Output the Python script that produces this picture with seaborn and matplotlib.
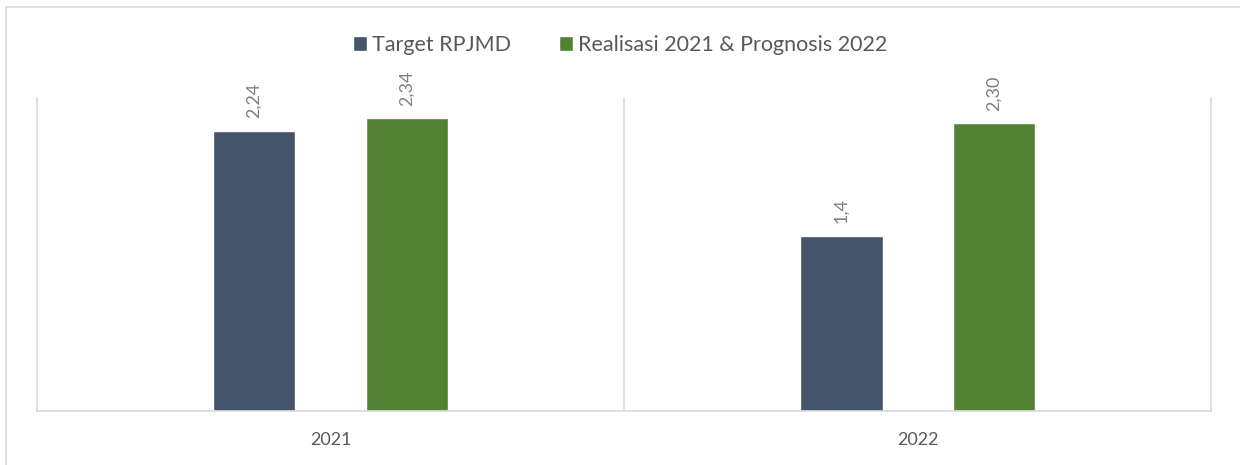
import matplotlib
matplotlib.use('Agg')
import matplotlib.pyplot as plt
import pandas as pd
import seaborn as sns
from matplotlib.lines import Line2D

# values
years = ['2021', '2022']
series = ['Target RPJMD', 'Realisasi 2021 & Prognosis 2022']
target = [2.24, 1.4]
realisasi = [2.34, 2.30]
value_labels = {'Target RPJMD': ['2,24', '1,4'],
                'Realisasi 2021 & Prognosis 2022': ['2,34', '2,30']}
colors = ['#44546A', '#548235']

df = pd.DataFrame({
    'year': years * 2,
    'series': [series[0]] * 2 + [series[1]] * 2,
    'value': target + realisasi,
})

sns.set_theme(style='white')
plt.rcParams['font.family'] = ['Lato', 'DejaVu Sans']

fig = plt.figure(figsize=(12.4, 4.65), dpi=100)
ax = fig.add_axes([0.0298, 0.116, 0.947, 0.673])

sns.barplot(data=df, x='year', y='value', hue='series', palette=colors,
            width=0.52, gap=0.46, ax=ax, legend=True, saturation=1)

ax.set_xlim(-0.5, 1.5)
ax.set_ylim(0, 2.5)
ax.set_yticks([])
ax.set_xlabel('')
ax.set_ylabel('')

grid_c = '#D9D9D9'
ax.spines['top'].set_visible(False)
for s in ['left', 'right', 'bottom']:
    ax.spines[s].set_color(grid_c)
    ax.spines[s].set_linewidth(1.2)
ax.axvline(0.5, color=grid_c, lw=1.2)
ax.tick_params(axis='x', length=0, pad=15, labelsize=13, colors='#595959')
for t in ax.get_xticklabels():
    t.set_fontstretch('expanded')

# data labels, rotated like the original
for cont, name in zip(ax.containers, series):
    for bar, lab in zip(cont, value_labels[name]):
        ax.annotate(lab, (bar.get_x() + bar.get_width() / 2, bar.get_height()),
                    xytext=(0, 9), textcoords='offset points', rotation=90,
                    ha='center', va='bottom', fontsize=13, color='#7F7F7F')

handles, labels = ax.get_legend_handles_labels()
ax.legend(handles, labels, loc='center', bbox_to_anchor=(0.5, 0.903),
          bbox_transform=fig.transFigure, ncol=2, frameon=False,
          fontsize=15.5, handlelength=0.65, handleheight=0.65,
          handletextpad=0.25, columnspacing=2.2, labelcolor='#595959')

# outer chart border
fig.add_artist(Line2D([0.005, 0.005], [0, 0.985], color=grid_c, lw=1.2,
                      transform=fig.transFigure))
fig.add_artist(Line2D([0.005, 1.0], [0.985, 0.985], color=grid_c, lw=1.2,
                      transform=fig.transFigure))

fig.savefig('out.png', dpi=100)
